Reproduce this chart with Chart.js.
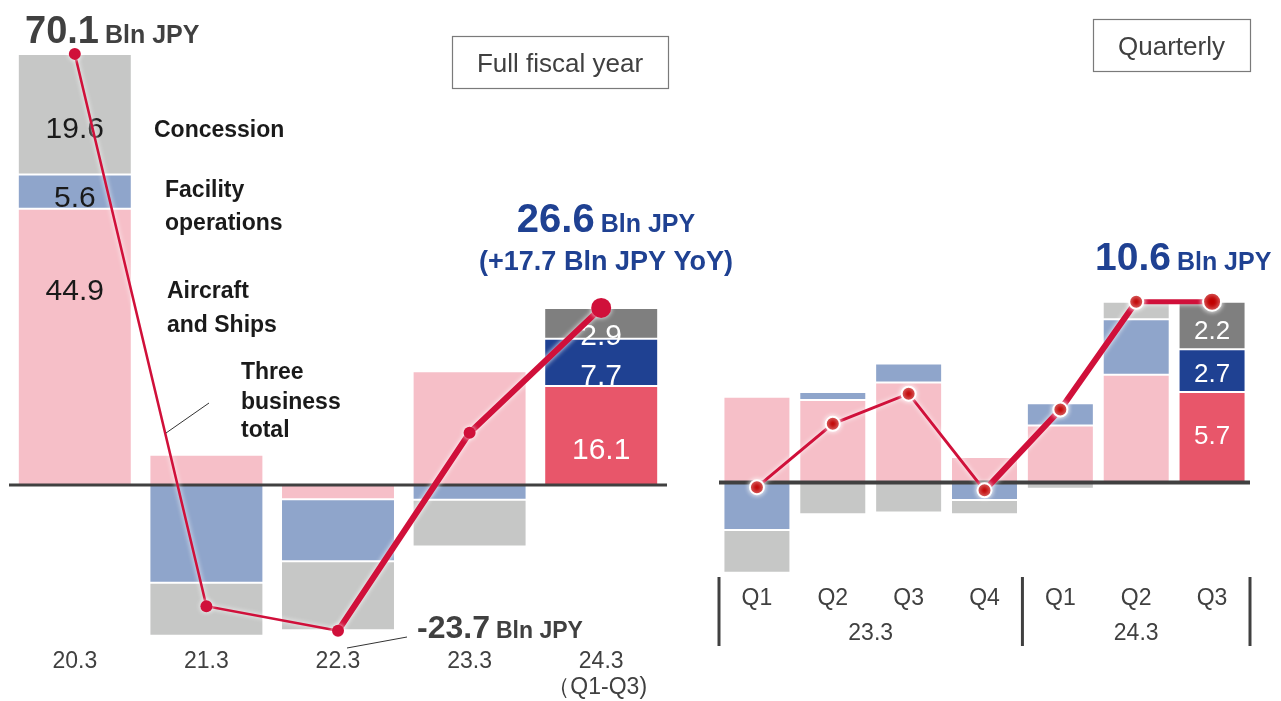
<!DOCTYPE html>
<html>
<head>
<meta charset="utf-8">
<script src="https://cdn.jsdelivr.net/npm/chart.js@4.4.1/dist/chart.umd.min.js"></script>
<style>
  html, body { margin: 0; padding: 0; background: #ffffff; }
  #wrap { position: relative; width: 1281px; height: 701px; overflow: hidden; }
  canvas { position: absolute; left: 0; top: 0; }
</style>
</head>
<body>
<div id="wrap">
  <canvas id="fy-canvas" width="1281" height="701"></canvas>
  <canvas id="qt-canvas" width="1281" height="701"></canvas>
</div>
<script>
// Operating profit by segment: full fiscal year (left) and quarterly (right).
(function() {
  "use strict";

  // ===== Full fiscal year data (Bln JPY) =====
  var fyLabels = ["20.3", "21.3", "22.3", "23.3", "24.3"];
  var fyAircraft = [44.9, 4.9, -2.3, 18.5, 16.1];
  var fyFacility = [5.6, -15.9, -10.1, -2.4, 7.7];
  var fyConcession = [19.6, -8.6, -11.2, -7.6, 5.0];
  var fyTotal = [70.1, -19.7, -23.7, 8.5, 28.8];
  var fyAircraftText = ["44.9", "", "", "", "16.1"];
  var fyFacilityText = ["5.6", "", "", "", "7.7"];
  var fyConcessionText = ["19.6", "", "", "", "2.9"];

  // ===== Quarterly data (Bln JPY) =====
  var qLabels = ["Q1", "Q2", "Q3", "Q4", "Q1", "Q2", "Q3"];
  var qYears = ["23.3", "24.3"];
  var qYearSpan = [4, 3];
  var qAircraft = [5.4, 5.2, 6.3, 1.6, 3.6, 6.8, 5.7];
  var qFacility = [-3.0, 0.5, 1.2, -1.1, 1.4, 3.5, 2.7];
  var qConcession = [-2.7, -2.0, -1.9, -0.9, -0.4, 1.1, 3.0];
  var qTotal = [-0.3, 3.7, 5.6, -0.5, 4.6, 11.4, 11.4];
  var qAircraftText = ["", "", "", "", "", "", "5.7"];
  var qFacilityText = ["", "", "", "", "", "", "2.7"];
  var qConcessionText = ["", "", "", "", "", "", "2.2"];

  // ===== Styles =====
  var FONT = "'Liberation Sans', Arial, sans-serif";
  var TEXT_DARK = "#404040";
  var NAVY_TEXT = "#1f4192";
  var LINE_RED = "#d0103a";
  var PINK = "#f6bfc8", PINK_STRONG = "#e8566a";
  var BLUE = "#8fa5cb", BLUE_STRONG = "#1f4192";
  var GRAY = "#c6c7c6", GRAY_STRONG = "#7f7f7f";

  function lastStrong(n, light, strong) {
    var out = [];
    for (var i = 0; i < n; i++) out.push(i === n - 1 ? strong : light);
    return out;
  }

  function font(size, bold) {
    return (bold ? "bold " : "") + size + "px " + FONT;
  }

  function text(ctx, str, x, y, f, color, align) {
    ctx.font = f;
    ctx.fillStyle = color;
    ctx.textAlign = align || "center";
    ctx.textBaseline = "alphabetic";
    ctx.fillText(str, x, y);
  }

  // big number followed by a smaller unit, either left-aligned or centred on x
  function pair(ctx, big, bigFont, small, smallFont, x, y, color, centred) {
    ctx.font = bigFont;
    var w1 = ctx.measureText(big).width;
    ctx.font = smallFont;
    var w2 = ctx.measureText(small).width;
    var gap = 6;
    var start = centred ? x - (w1 + gap + w2) / 2 : x;
    text(ctx, big, start, y, bigFont, color, "left");
    text(ctx, small, start + w1 + gap, y, smallFont, color, "left");
  }

  function line(ctx, x1, y1, x2, y2, color, width) {
    ctx.save();
    ctx.strokeStyle = color;
    ctx.lineWidth = width;
    ctx.beginPath();
    ctx.moveTo(x1, y1);
    ctx.lineTo(x2, y2);
    ctx.stroke();
    ctx.restore();
  }

  function box(ctx, x, y, w, h, label) {
    ctx.save();
    ctx.strokeStyle = "#7a7a7a";
    ctx.lineWidth = 1.2;
    ctx.strokeRect(x + 0.5, y + 0.5, w, h);
    ctx.restore();
    text(ctx, label, x + w / 2, y + h / 2 + 10, font(26), TEXT_DARK);
  }

  // value labels inside stacked segments; frac is where in the segment the text sits
  function segmentLabels(chart, dsIndex, texts, fracs, size) {
    var ctx = chart.ctx;
    var meta = chart.getDatasetMeta(dsIndex);
    for (var i = 0; i < texts.length; i++) {
      if (!texts[i]) continue;
      var el = meta.data[i];
      var top = Math.min(el.y, el.base);
      var bottom = Math.max(el.y, el.base);
      var y = top + fracs[i] * (bottom - top);
      var color = i === texts.length - 1 ? "#ffffff" : "#1a1a1a";
      ctx.save();
      ctx.font = font(size);
      ctx.fillStyle = color;
      ctx.textAlign = "center";
      ctx.textBaseline = "middle";
      ctx.fillText(texts[i], el.x, y);
      ctx.restore();
    }
  }

  function overlay(opts) {
    return {
      id: "overlay-" + opts.name,
      beforeDatasetDraw: function(chart, args) {
        if (args.meta.type !== "line") return;
        var ctx = chart.ctx;
        var area = chart.chartArea;
        var y0 = chart.scales.y.getPixelForValue(0);
        line(ctx, area.left, y0, area.right, y0, "#404040", opts.zeroWidth);
        opts.labels(chart);
        ctx.save();
        ctx.shadowColor = "rgba(255,255,255,0.95)";
        ctx.shadowBlur = 5;
      },
      afterDatasetDraw: function(chart, args) {
        if (args.meta.type !== "line") return;
        chart.ctx.restore();
      },
      afterDraw: function(chart) {
        opts.annotate(chart);
      }
    };
  }

  function barSet(label, data, colors, order) {
    return {
      type: "bar",
      label: label,
      data: data,
      backgroundColor: colors,
      borderColor: "rgba(255,255,255,0.9)",
      borderWidth: 1,
      borderSkipped: false,
      stack: "segments",
      order: order
    };
  }

  function baseOptions(padLeft, padRight, yMin, yMax, barPct) {
    return {
      responsive: false,
      animation: false,
      events: [],
      layout: { autoPadding: false, padding: { left: padLeft, right: padRight, top: 0, bottom: 0 } },
      datasets: { bar: { categoryPercentage: 1, barPercentage: barPct } },
      scales: {
        x: { display: false, stacked: true, offset: true },
        y: { display: false, stacked: true, min: yMin, max: yMax }
      },
      plugins: { legend: { display: false }, tooltip: { enabled: false } }
    };
  }

  // ===== Full fiscal year chart =====
  var fyLineWidths = [2.5, 2.5, 6, 6];
  var fyPointRadius = [6, 6, 6, 6, 10];

  new Chart(document.getElementById("fy-canvas"), {
    data: {
      labels: fyLabels,
      datasets: [
        barSet("Aircraft and Ships", fyAircraft, lastStrong(5, PINK, PINK_STRONG), 1),
        barSet("Facility operations", fyFacility, lastStrong(5, BLUE, BLUE_STRONG), 2),
        barSet("Concession", fyConcession, lastStrong(5, GRAY, GRAY_STRONG), 3),
        {
          type: "line",
          label: "Three business total",
          data: fyTotal,
          stack: "total",
          order: 0,
          borderColor: LINE_RED,
          borderWidth: 2.5,
          pointRadius: fyPointRadius,
          pointBackgroundColor: LINE_RED,
          pointBorderColor: LINE_RED,
          pointBorderWidth: 0,
          tension: 0,
          segment: {
            borderWidth: function(c) { return fyLineWidths[c.p0DataIndex]; }
          }
        }
      ]
    },
    options: baseOptions(9, 614, -35.12, 78.86, 0.866),
    plugins: [overlay({
      name: "fy",
      zeroWidth: 3,
      labels: function(chart) {
        segmentLabels(chart, 0, fyAircraftText, [0.3, 0, 0, 0, 0.65], 30);
        segmentLabels(chart, 1, fyFacilityText, [0.7, 0, 0, 0, 0.8], 30);
        segmentLabels(chart, 2, fyConcessionText, [0.63, 0, 0, 0, 0.95], 30);
      },
      annotate: function(chart) {
        var ctx = chart.ctx;
        var xs = chart.scales.x;

        pair(ctx, "70.1", font(38, true), "Bln JPY", font(25, true), 25, 43, TEXT_DARK, false);

        var lf = font(23, true);
        text(ctx, "Concession", 154, 137, lf, "#1a1a1a", "left");
        text(ctx, "Facility", 165, 197, lf, "#1a1a1a", "left");
        text(ctx, "operations", 165, 230, lf, "#1a1a1a", "left");
        text(ctx, "Aircraft", 167, 298, lf, "#1a1a1a", "left");
        text(ctx, "and Ships", 167, 332, lf, "#1a1a1a", "left");
        text(ctx, "Three", 241, 379, lf, "#1a1a1a", "left");
        text(ctx, "business", 241, 409, lf, "#1a1a1a", "left");
        text(ctx, "total", 241, 437, lf, "#1a1a1a", "left");
        line(ctx, 209, 403, 166, 433, "#333333", 1);

        box(ctx, 452, 36, 216, 52, "Full fiscal year");

        pair(ctx, "26.6", font(40, true), "Bln JPY", font(25, true), 606, 232, NAVY_TEXT, true);
        text(ctx, "(+17.7 Bln JPY YoY)", 606, 270, font(27, true), NAVY_TEXT);

        pair(ctx, "-23.7", font(32, true), "Bln JPY", font(23, true), 417, 638, TEXT_DARK, false);
        line(ctx, 347, 648, 407, 637, "#333333", 1);

        for (var i = 0; i < fyLabels.length; i++) {
          text(ctx, fyLabels[i], xs.getPixelForValue(i), 668, font(23), TEXT_DARK);
        }
        text(ctx, "（Q1-Q3)", xs.getPixelForValue(fyLabels.length - 1) - 4, 694, font(23), TEXT_DARK);
      }
    })]
  });

  // ===== Quarterly chart =====
  var qLineWidths = [3, 3, 3, 6, 6, 5];
  var qPointRadius = [7, 7, 7, 7, 7, 7, 9];

  new Chart(document.getElementById("qt-canvas"), {
    data: {
      labels: qLabels,
      datasets: [
        barSet("Aircraft and Ships", qAircraft, lastStrong(7, PINK, PINK_STRONG), 1),
        barSet("Facility operations", qFacility, lastStrong(7, BLUE, BLUE_STRONG), 2),
        barSet("Concession", qConcession, lastStrong(7, GRAY, GRAY_STRONG), 3),
        {
          type: "line",
          label: "Three business total",
          data: qTotal,
          stack: "total",
          order: 0,
          borderColor: LINE_RED,
          borderWidth: 3,
          pointRadius: qPointRadius,
          pointBackgroundColor: "#c00000",
          pointBorderColor: "#ffffff",
          pointBorderWidth: 2,
          tension: 0,
          segment: {
            borderWidth: function(c) { return qLineWidths[c.p0DataIndex]; }
          }
        }
      ]
    },
    options: baseOptions(719, 31, -13.79, 30.44, 0.883),
    plugins: [overlay({
      name: "qt",
      zeroWidth: 4,
      labels: function(chart) {
        var none = [0, 0, 0, 0, 0, 0];
        segmentLabels(chart, 0, qAircraftText, none.concat([0.5]), 26);
        segmentLabels(chart, 1, qFacilityText, none.concat([0.6]), 26);
        segmentLabels(chart, 2, qConcessionText, none.concat([0.64]), 26);
      },
      annotate: function(chart) {
        var ctx = chart.ctx;
        var xs = chart.scales.x;
        var step = xs.getPixelForValue(1) - xs.getPixelForValue(0);

        box(ctx, 1093, 19, 157, 52, "Quarterly");
        pair(ctx, "10.6", font(39, true), "Bln JPY", font(25, true), 1095, 270, NAVY_TEXT, false);

        for (var i = 0; i < qLabels.length; i++) {
          text(ctx, qLabels[i], xs.getPixelForValue(i), 605, font(23), TEXT_DARK);
        }

        // year groups with separators
        var start = 0;
        var edge = xs.getPixelForValue(0) - step / 2;
        line(ctx, edge, 577, edge, 646, "#404040", 3);
        for (var g = 0; g < qYears.length; g++) {
          var first = xs.getPixelForValue(start);
          var last = xs.getPixelForValue(start + qYearSpan[g] - 1);
          text(ctx, qYears[g], (first + last) / 2, 640, font(23), TEXT_DARK);
          var sep = last + step / 2;
          line(ctx, sep, 577, sep, 646, "#404040", 3);
          start += qYearSpan[g];
        }
      }
    })]
  });
})();
</script>
</body>
</html>
